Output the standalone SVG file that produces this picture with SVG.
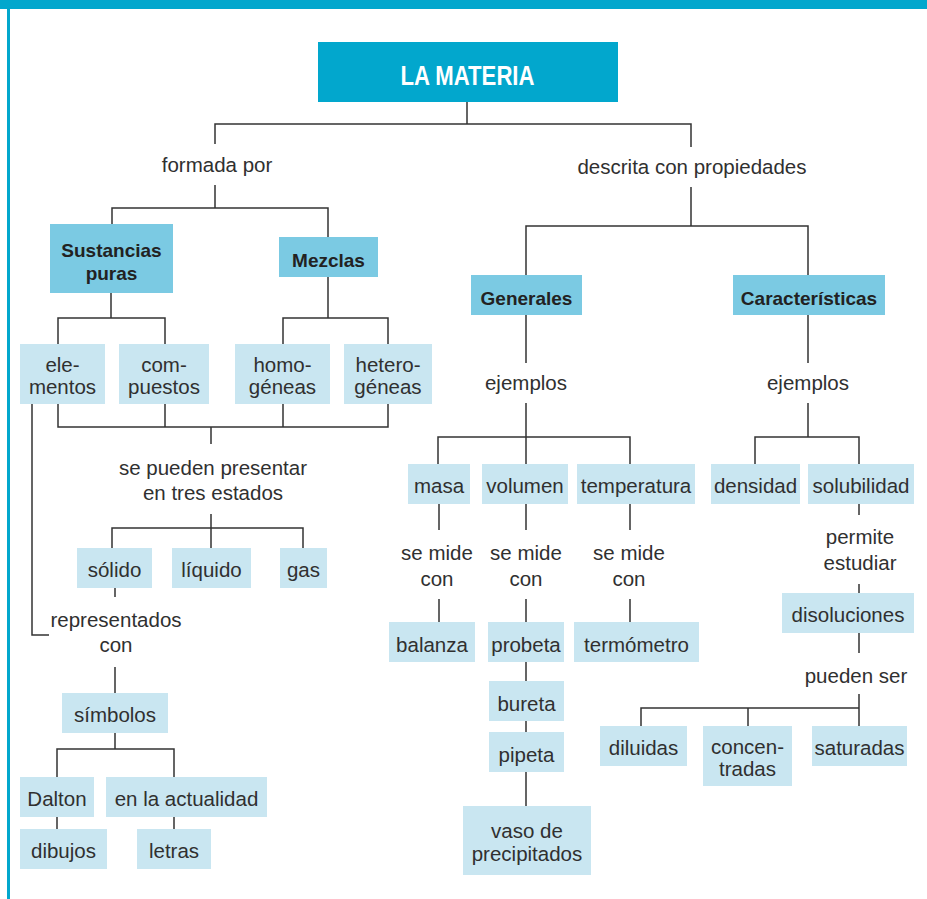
<svg xmlns="http://www.w3.org/2000/svg" width="927" height="899" viewBox="0 0 927 899">
<style>
.bg{fill:#ffffff}
.frame{fill:#02a7cd}
.main{fill:#02a7cd}
.mid{fill:#7bcae3}
.lt{fill:#c9e6f1}
.t{font-family:"Liberation Sans",Arial,sans-serif;font-size:20.5px;fill:#303030;text-anchor:middle}
.b{font-family:"Liberation Sans",Arial,sans-serif;font-size:19px;font-weight:bold;fill:#222222;text-anchor:middle}
.title{font-family:"Liberation Sans",Arial,sans-serif;font-size:27px;font-weight:bold;fill:#ffffff;text-anchor:middle}
#connectors path{fill:none;stroke:#333333;stroke-width:1.5}
</style>
<rect class="bg" x="0" y="0" width="927" height="899"/>
<rect class="frame" x="0" y="0" width="927" height="9"/>
<rect class="frame" x="7" y="0" width="3" height="899"/>

<g id="connectors">
<path d="M467 102V124M215 144V124H691V147"/>
<path d="M215 185V208M112 224V208H328V237"/>
<path d="M111 293V318M58 344V318H165V344"/>
<path d="M328 277V318M283 344V318H388V344"/>
<path d="M58 404V427H388V404M165 404V427M283 404V427M211 427V444"/>
<path d="M32 404V635H49"/>
<path d="M211 514V528M112 548V528H303V548M211 528V548"/>
<path d="M115 588V597M115 667V693"/>
<path d="M115 733V749M57 777V749H174V777"/>
<path d="M57 817V829M174 817V829"/>
<path d="M691 187V226M526 275V226H808V275"/>
<path d="M526 315V363M808 315V363"/>
<path d="M526 403V437M438 464V437H630V464M526 437V464"/>
<path d="M808 403V437M755 464V437H859V464"/>
<path d="M439 504V530M526 504V530M630 504V530"/>
<path d="M439 599V622M526 599V622M630 599V622"/>
<path d="M526 662V681M526 721V732M526 772V806"/>
<path d="M859 504V515M859 584V593M859 633V653M859 694V726M641 726V708H859M748 708V726"/>
</g>

<g id="la-materia"><rect class="main" x="318" y="42" width="300" height="60"/><text class="title" x="467.5" y="85" textLength="134" lengthAdjust="spacingAndGlyphs">LA MATERIA</text></g>
<g id="formada-por"><text class="t" x="217" y="172">formada por</text></g>
<g id="descrita"><text class="t" x="692" y="174">descrita con propiedades</text></g>

<g id="sustancias-puras"><rect class="mid" x="50" y="224" width="123" height="69"/><text class="b" x="111.5" y="257">Sustancias</text><text class="b" x="111.5" y="280">puras</text></g>
<g id="mezclas"><rect class="mid" x="279" y="237" width="99" height="40"/><text class="b" x="328.5" y="267">Mezclas</text></g>
<g id="elementos"><rect class="lt" x="20" y="344" width="85" height="60"/><text class="t" x="62.5" y="372">ele-</text><text class="t" x="62.5" y="394">mentos</text></g>
<g id="compuestos"><rect class="lt" x="119" y="344" width="90" height="60"/><text class="t" x="164" y="372">com-</text><text class="t" x="164" y="394">puestos</text></g>
<g id="homogeneas"><rect class="lt" x="235" y="344" width="95" height="60"/><text class="t" x="282.5" y="372">homo-</text><text class="t" x="282.5" y="394">géneas</text></g>
<g id="heterogeneas"><rect class="lt" x="344" y="344" width="88" height="60"/><text class="t" x="388" y="372">hetero-</text><text class="t" x="388" y="394">géneas</text></g>
<g id="se-pueden"><text class="t" x="213" y="475">se pueden presentar</text><text class="t" x="213" y="500">en tres estados</text></g>
<g id="solido"><rect class="lt" x="77" y="548" width="75" height="40"/><text class="t" x="114.5" y="577">sólido</text></g>
<g id="liquido"><rect class="lt" x="172" y="548" width="79" height="40"/><text class="t" x="211.5" y="577">líquido</text></g>
<g id="gas"><rect class="lt" x="280" y="548" width="47" height="40"/><text class="t" x="303.5" y="577">gas</text></g>
<g id="representados"><text class="t" x="116" y="627">representados</text><text class="t" x="116" y="652">con</text></g>
<g id="simbolos"><rect class="lt" x="62" y="693" width="106" height="40"/><text class="t" x="115" y="722">símbolos</text></g>
<g id="dalton"><rect class="lt" x="20" y="777" width="74" height="40"/><text class="t" x="57" y="806">Dalton</text></g>
<g id="actualidad"><rect class="lt" x="106" y="777" width="161" height="40"/><text class="t" x="186.5" y="806">en la actualidad</text></g>
<g id="dibujos"><rect class="lt" x="20" y="829" width="87" height="40"/><text class="t" x="63.5" y="858">dibujos</text></g>
<g id="letras"><rect class="lt" x="137" y="829" width="74" height="40"/><text class="t" x="174" y="858">letras</text></g>

<g id="generales"><rect class="mid" x="471" y="275" width="111" height="40"/><text class="b" x="526.5" y="305">Generales</text></g>
<g id="caracteristicas"><rect class="mid" x="733" y="275" width="152" height="40"/><text class="b" x="809" y="305">Características</text></g>
<g id="ejemplos-1"><text class="t" x="526" y="390">ejemplos</text></g>
<g id="ejemplos-2"><text class="t" x="808" y="390">ejemplos</text></g>
<g id="masa"><rect class="lt" x="408" y="464" width="62" height="40"/><text class="t" x="439" y="493">masa</text></g>
<g id="volumen"><rect class="lt" x="482" y="464" width="86" height="40"/><text class="t" x="525" y="493">volumen</text></g>
<g id="temperatura"><rect class="lt" x="577" y="464" width="118" height="40"/><text class="t" x="636" y="493">temperatura</text></g>
<g id="densidad"><rect class="lt" x="711" y="464" width="89" height="40"/><text class="t" x="755.5" y="493">densidad</text></g>
<g id="solubilidad"><rect class="lt" x="808" y="464" width="106" height="40"/><text class="t" x="861" y="493">solubilidad</text></g>
<g id="se-mide-1"><text class="t" x="437" y="560">se mide</text><text class="t" x="437" y="586">con</text></g>
<g id="se-mide-2"><text class="t" x="526" y="560">se mide</text><text class="t" x="526" y="586">con</text></g>
<g id="se-mide-3"><text class="t" x="629" y="560">se mide</text><text class="t" x="629" y="586">con</text></g>
<g id="balanza"><rect class="lt" x="389" y="622" width="86" height="40"/><text class="t" x="432" y="652">balanza</text></g>
<g id="probeta"><rect class="lt" x="488" y="622" width="76" height="40"/><text class="t" x="526" y="652">probeta</text></g>
<g id="termometro"><rect class="lt" x="574" y="622" width="125" height="40"/><text class="t" x="636.5" y="652">termómetro</text></g>
<g id="bureta"><rect class="lt" x="489" y="681" width="75" height="40"/><text class="t" x="526.5" y="711">bureta</text></g>
<g id="pipeta"><rect class="lt" x="489" y="732" width="75" height="40"/><text class="t" x="526.5" y="762">pipeta</text></g>
<g id="vaso"><rect class="lt" x="463" y="806" width="128" height="69"/><text class="t" x="527" y="838">vaso de</text><text class="t" x="527" y="861">precipitados</text></g>
<g id="permite"><text class="t" x="860" y="544">permite</text><text class="t" x="860" y="570">estudiar</text></g>
<g id="disoluciones"><rect class="lt" x="782" y="593" width="132" height="40"/><text class="t" x="848" y="622">disoluciones</text></g>
<g id="pueden-ser"><text class="t" x="856" y="683">pueden ser</text></g>
<g id="diluidas"><rect class="lt" x="600" y="726" width="87" height="40"/><text class="t" x="643.5" y="755">diluidas</text></g>
<g id="concentradas"><rect class="lt" x="703" y="726" width="89" height="60"/><text class="t" x="747.5" y="754">concen-</text><text class="t" x="747.5" y="776">tradas</text></g>
<g id="saturadas"><rect class="lt" x="812" y="726" width="95" height="40"/><text class="t" x="859.5" y="755">saturadas</text></g>
</svg>
